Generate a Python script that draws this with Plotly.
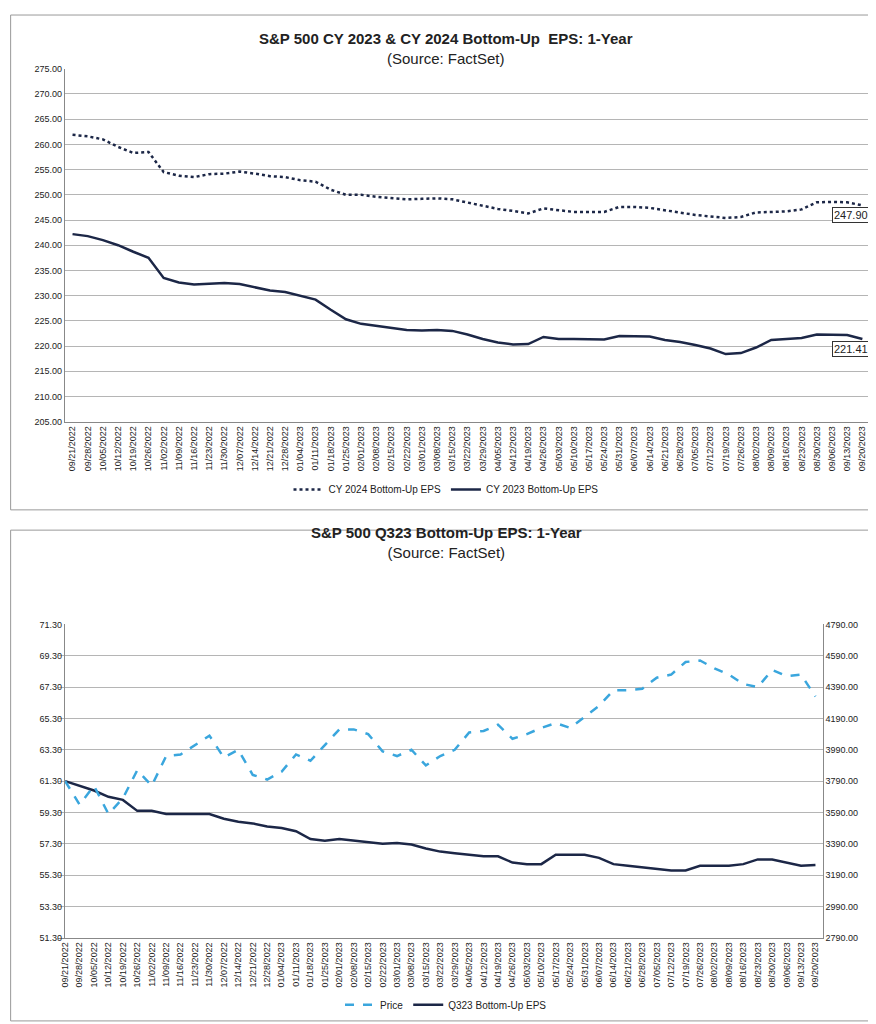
import plotly.graph_objects as go
import pandas as pd

# Weekly dates on the category axis
dates = pd.date_range("2022-09-21", "2023-09-20", freq="7D").strftime("%m/%d/%Y").tolist()

cy2024_eps = [261.9, 261.6, 261.0, 259.5, 258.3, 258.5, 254.5, 253.8, 253.5, 254.1,
              254.2, 254.6, 254.2, 253.7, 253.5, 252.9, 252.6, 251.0, 250.0, 250.0,
              249.6, 249.4, 249.1, 249.2, 249.3, 249.1, 248.5, 247.9, 247.2, 246.8,
              246.3, 247.3, 246.9, 246.6, 246.6, 246.6, 247.6, 247.6, 247.4, 246.9,
              246.5, 246.0, 245.7, 245.4, 245.6, 246.5, 246.6, 246.7, 247.1, 248.5,
              248.6, 248.5, 247.9]
cy2023_eps = [242.2, 241.8, 241.0, 240.0, 238.7, 237.5, 233.5, 232.6, 232.2, 232.4,
              232.5, 232.3, 231.7, 231.0, 230.7, 230.0, 229.2, 227.2, 225.3, 224.4,
              224.0, 223.7, 223.2, 223.1, 223.2, 223.0, 222.3, 221.4, 220.7, 220.3,
              220.4, 221.8, 221.4, 221.4, 221.3, 221.3, 222.0, 222.0, 221.9, 221.2,
              220.8, 220.2, 219.5, 218.4, 218.6, 219.7, 221.2, 221.4, 221.6, 222.3,
              222.2, 222.2, 221.41]
q323_eps = [61.3, 61.0, 60.7, 60.3, 60.1, 59.4, 59.4, 59.2, 59.2, 59.2,
            59.2, 58.9, 58.7, 58.6, 58.4, 58.3, 58.1, 57.6, 57.5, 57.6,
            57.5, 57.4, 57.3, 57.35, 57.25, 57.0, 56.8, 56.7, 56.6, 56.5,
            56.5, 56.1, 56.0, 56.0, 56.6, 56.6, 56.6, 56.4, 56.0, 55.9,
            55.8, 55.7, 55.6, 55.6, 55.9, 55.9, 55.9, 56.0, 56.3, 56.3,
            56.1, 55.9, 55.95]
price = [3790, 3640, 3760, 3580, 3680, 3860, 3760, 3950, 3960, 4020,
         4080, 3940, 3990, 3830, 3800, 3850, 3960, 3920, 4020, 4120,
         4120, 4090, 3980, 3950, 3990, 3890, 3950, 3990, 4100, 4110,
         4150, 4060, 4090, 4130, 4160, 4130, 4200, 4270, 4370, 4370,
         4380, 4450, 4470, 4550, 4560, 4510, 4470, 4410, 4390, 4500,
         4460, 4470, 4330]

left_ticks = [51.3 + 2 * i for i in range(11)]
right_ticks = [2790 + 200 * i for i in range(11)]

NAVY = '#1c2747'
BLUE = '#3aa6dd'
FONT = "Liberation Sans, Arial"

fig = go.Figure()

# Top chart: CY 2024 and CY 2023
fig.add_trace(go.Scatter(x=dates, y=cy2024_eps, name="CY 2024 Bottom-Up EPS",
                         line=dict(color=NAVY, width=2.5, dash='dot'), legend='legend'))
fig.add_trace(go.Scatter(x=dates, y=cy2023_eps, name="CY 2023 Bottom-Up EPS",
                         line=dict(color=NAVY, width=2.5), legend='legend'))

# Bottom chart: Price and Q323 EPS
fig.add_trace(go.Scatter(x=dates, y=price, name="Price", xaxis='x2', yaxis='y3',
                         line=dict(color=BLUE, width=2.5, dash='dash'), legend='legend2'))
fig.add_trace(go.Scatter(x=dates, y=q323_eps, name="Q323 Bottom-Up EPS", xaxis='x2', yaxis='y2',
                         line=dict(color=NAVY, width=2.5), legend='legend2'))

axis_style = dict(showline=True, linecolor='#888', ticks='', tickfont=dict(size=9, color='#222'))

fig.update_layout(
    width=876, height=1024, margin=dict(l=0, r=0, t=0, b=0),
    paper_bgcolor='white', plot_bgcolor='white', font=dict(family=FONT, color='#222'),
    xaxis=dict(domain=[0.065, 0.984], anchor='y', type='category', tickangle=-90,
               range=[-0.5, len(dates) - 0.5], **axis_style),
    yaxis=dict(domain=[0.597, 0.945], range=[205, 275], dtick=5, tickformat='.2f',
               gridcolor='#b5b5b5', **axis_style),
    xaxis2=dict(domain=[0.057, 0.930], anchor='y2', type='category', tickangle=-90,
                range=[-0.5, len(dates) - 0.5], **axis_style),
    yaxis2=dict(domain=[0.088, 0.397], range=[51.3, 71.3], tickvals=left_ticks,
                tickformat='.2f', gridcolor='#b5b5b5', **axis_style),
    yaxis3=dict(overlaying='y2', side='right', anchor='x2', range=[2790, 4790],
                tickvals=right_ticks, tickformat='.2f', showgrid=False, **axis_style),
    legend=dict(orientation='h', x=0.5, xanchor='center', y=0.53, yanchor='middle',
                font=dict(size=10)),
    legend2=dict(orientation='h', x=0.5, xanchor='center', y=0.022, yanchor='middle',
                 font=dict(size=10)),
)

# Chart borders
for y0, y1 in [(0.51, 0.998), (0.006, 0.49)]:
    fig.add_shape(type='rect', xref='paper', yref='paper', x0=0.003, x1=0.997,
                  y0=y0, y1=y1, line=dict(color='#999', width=1))

# Titles
fig.add_annotation(x=0.5, y=0.985, xref='paper', yref='paper', showarrow=False,
                   text="<b>S&P 500 CY 2023 & CY 2024 Bottom-Up  EPS: 1-Year</b><br>(Source: FactSet)",
                   font=dict(size=15, color='#222'))
fig.add_annotation(x=0.5, y=0.478, xref='paper', yref='paper', showarrow=False,
                   text="<b>S&P 500 Q323 Bottom-Up EPS: 1-Year</b><br>(Source: FactSet)",
                   font=dict(size=15, color='#222'))

# Last-value labels
for val in [cy2024_eps[-1], cy2023_eps[-1]]:
    fig.add_annotation(x=dates[-1], y=val - 2, xref='x', yref='y', showarrow=False,
                       xanchor='right', text=f"{val:.2f}", font=dict(size=11), bgcolor='white',
                       bordercolor='#333', borderwidth=1, borderpad=1, xshift=8)

fig.write_html("out.html")
